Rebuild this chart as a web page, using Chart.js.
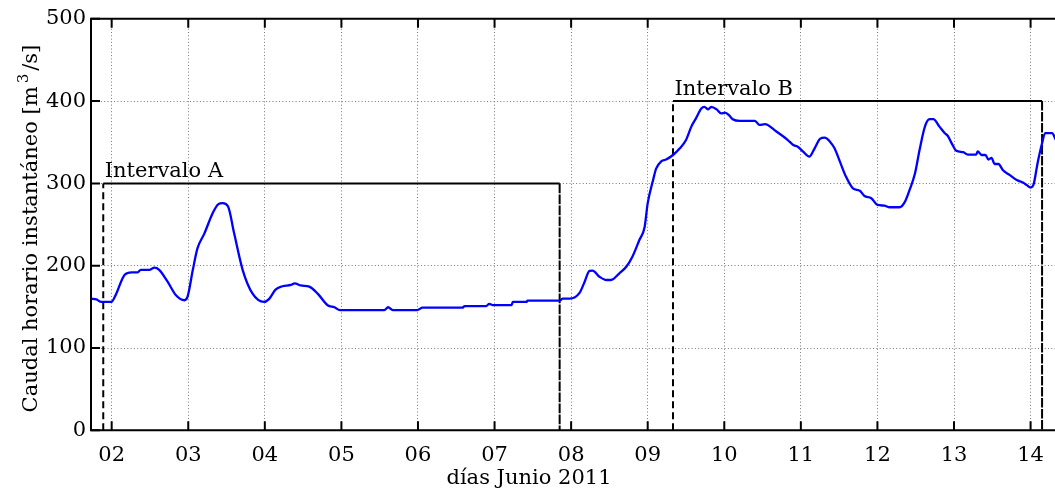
<!DOCTYPE html>
<html>
<head>
<meta charset="utf-8">
<script src="https://cdn.jsdelivr.net/npm/chart.js@4/dist/chart.umd.min.js"></script>
<style>
  html, body { margin: 0; padding: 0; background: #fff; overflow: hidden; }
  #wrap { position: relative; width: 1100px; height: 490px; }
</style>
</head>
<body>
<div id="wrap"><canvas id="c" width="1100" height="490"></canvas></div>
<script>
// Hourly discharge, June 2011 (day of month as fractional days)
const days = [
  1.73, 1.80, 1.864, 1.995, 2.06, 2.12, 2.17, 2.26, 2.34, 2.38, 2.49, 2.56, 2.62, 2.73, 2.84, 2.95, 2.99,
  3.06, 3.12, 3.21, 3.32, 3.39, 3.45, 3.52, 3.60, 3.71, 3.84, 3.99,
  4.06, 4.14, 4.23, 4.34, 4.39, 4.47, 4.58, 4.69, 4.82, 4.91, 4.98,
  5.56, 5.61, 5.67, 5.99, 6.06, 6.58, 6.61, 6.89, 6.93, 6.98, 7.22, 7.24, 7.42, 7.43, 7.85, 7.89, 7.98,
  8.11, 8.17, 8.24, 8.28, 8.37, 8.46, 8.52, 8.63, 8.72, 8.80, 8.89, 8.96,
  9.00, 9.07, 9.11, 9.18, 9.24, 9.33, 9.42, 9.50, 9.57, 9.63, 9.70, 9.74, 9.79, 9.83, 9.90, 9.96,
  10.01, 10.07, 10.11, 10.20, 10.40, 10.46, 10.53, 10.68, 10.83, 10.90, 10.96,
  11.03, 11.11, 11.18, 11.25, 11.31, 11.38, 11.44, 11.51, 11.59, 11.68, 11.77, 11.83, 11.92,
  12.00, 12.09, 12.16, 12.29, 12.36, 12.42, 12.49, 12.55, 12.62, 12.68, 12.73, 12.81, 12.88, 12.92, 12.97,
  13.03, 13.12, 13.18, 13.29, 13.31, 13.36, 13.41, 13.45, 13.49, 13.53, 13.58, 13.64, 13.73, 13.82, 13.90, 13.95,
  14.00, 14.04, 14.09, 14.15, 14.19, 14.28, 14.32, 14.36
];
const caudal = [
  160, 159, 156, 156, 166, 180, 189, 192, 192, 195, 195, 197.6, 195, 180.6, 164, 158, 162,
  195, 221, 239, 264, 274.6, 276, 272, 239, 195, 166, 156,
  160, 171, 175, 176.6, 178.6, 176, 174.5, 166, 152, 149.5, 146,
  146, 149.5, 146, 146, 149, 149, 151, 151, 153.5, 152, 152, 156, 156, 157.5, 157.5, 160, 160,
  167, 179, 193.6, 194, 186.6, 182.6, 182.6, 190.8, 198.8, 211, 231, 247,
  276, 304, 318, 327, 329, 334.5, 342.6, 352.7, 369, 379, 391, 393, 390, 393, 390, 385,
  386, 382, 378, 376, 376, 371, 372, 363, 352.7, 346.7, 344.6,
  338.5, 332.5, 342.6, 354, 355.5, 350.7, 342.6, 326.4, 308, 294, 291, 284.7, 282,
  273.8, 273, 271, 271, 277.8, 292, 312, 340.6, 369, 378, 378, 369, 361, 357.6, 348.7,
  339.7, 338, 335, 335, 339, 334.5, 334.5, 329, 331, 323.6, 323.6, 316, 310, 304, 301, 298,
  295, 299, 324, 348.7, 361, 361, 355, 346
];

// Analysis intervals: name, start day, end day, reference level [m3/s]
const intervalNames = ['Intervalo A', 'Intervalo B'];
const intervalStart = [1.89, 9.33];
const intervalEnd = [7.85, 14.15];
const intervalLevel = [300, 400];

// Axis ticks
const dayTicks = [2, 3, 4, 5, 6, 7, 8, 9, 10, 11, 12, 13, 14];
const flowTicks = [0, 100, 200, 300, 400, 500];

const FONT = 'DejaVu Serif';
const FS = 21;

const seriesData = days.map((d, i) => ({ x: d, y: caudal[i] }));

const intervalSets = intervalNames.map((name, k) => ({
  label: name,
  data: [
    { x: intervalStart[k], y: 0 },
    { x: intervalStart[k], y: intervalLevel[k] },
    { x: intervalEnd[k], y: intervalLevel[k] },
    { x: intervalEnd[k], y: 0 }
  ],
  borderColor: '#000',
  borderWidth: 2,
  pointRadius: 0,
  fill: false,
  tension: 0,
  order: 1,
  segment: {
    borderDash: ctx => (ctx.p0DataIndex === 1 ? [] : [7, 4])
  }
}));

// Box frame with inward ticks, interval captions and axis titles
const decorations = {
  id: 'decorations',
  afterDraw(chart) {
    const { ctx, chartArea: a, scales } = chart;
    const xs = scales.x, ys = scales.y;
    const tl = 9;
    ctx.save();
    ctx.strokeStyle = '#000';
    ctx.lineWidth = 2;
    ctx.beginPath();
    ctx.moveTo(a.left, a.top); ctx.lineTo(a.right, a.top);
    ctx.lineTo(a.right, a.bottom); ctx.lineTo(a.left, a.bottom);
    ctx.closePath();
    ctx.stroke();
    ctx.beginPath();
    dayTicks.forEach(v => {
      const px = xs.getPixelForValue(v);
      ctx.moveTo(px, a.bottom); ctx.lineTo(px, a.bottom - tl);
      ctx.moveTo(px, a.top); ctx.lineTo(px, a.top + tl);
    });
    flowTicks.forEach(v => {
      const py = ys.getPixelForValue(v);
      ctx.moveTo(a.left, py); ctx.lineTo(a.left + tl, py);
      ctx.moveTo(a.right, py); ctx.lineTo(a.right - tl, py);
    });
    ctx.stroke();

    // interval captions
    ctx.fillStyle = '#000';
    ctx.font = FS + 'px "' + FONT + '"';
    ctx.textAlign = 'left';
    ctx.textBaseline = 'alphabetic';
    intervalNames.forEach((name, k) => {
      ctx.fillText(name, xs.getPixelForValue(intervalStart[k]) + 1.5, ys.getPixelForValue(intervalLevel[k]) - 6);
    });

    // x title
    ctx.textAlign = 'center';
    ctx.fillText('días Junio 2011', 529, 484);

    // y title with superscript
    const p1 = 'Caudal horario instantáneo [m';
    const sup = '3';
    const p2 = '/s]';
    const supFont = Math.round(FS * 0.72) + 'px "' + FONT + '"';
    const mainFont = FS + 'px "' + FONT + '"';
    ctx.font = mainFont;
    const w1 = ctx.measureText(p1).width;
    const w3 = ctx.measureText(p2).width;
    ctx.font = supFont;
    const w2 = ctx.measureText(sup).width;
    const gap = 3;
    const total = w1 + gap + w2 + gap + w3;
    ctx.translate(37, (a.top + a.bottom) / 2 + 4);
    ctx.rotate(-Math.PI / 2);
    ctx.textAlign = 'left';
    let x0 = -total / 2;
    ctx.font = mainFont;
    ctx.fillText(p1, x0, 0);
    x0 += w1 + gap;
    ctx.font = supFont;
    ctx.fillText(sup, x0, -9);
    x0 += w2 + gap;
    ctx.font = mainFont;
    ctx.fillText(p2, x0, 0);
    ctx.restore();
  }
};

new Chart(document.getElementById('c'), {
  type: 'line',
  data: {
    datasets: [
      {
        label: 'Caudal',
        data: seriesData,
        borderColor: '#0000ff',
        borderWidth: 2.3,
        pointRadius: 0,
        fill: false,
        cubicInterpolationMode: 'monotone',
        order: 0
      },
      ...intervalSets
    ]
  },
  options: {
    responsive: false,
    animation: false,
    layout: { padding: { top: 18.8, right: 25, left: 0, bottom: 0 } },
    plugins: { legend: { display: false }, tooltip: { enabled: false } },
    scales: {
      x: {
        type: 'linear',
        min: 1.73,
        max: 14.58,
        afterBuildTicks: s => { s.ticks = dayTicks.map(v => ({ value: v })); },
        afterFit: s => { s.height = 490 - 430.3; },
        ticks: {
          autoSkip: false,
          maxRotation: 0,
          padding: 13,
          color: '#000',
          font: { family: FONT, size: FS },
          callback: v => String(v).padStart(2, '0')
        },
        grid: { color: '#777', lineWidth: 1, drawTicks: false },
        border: { display: false, dash: [1, 2.3] }
      },
      y: {
        min: 0,
        max: 500,
        afterBuildTicks: s => { s.ticks = flowTicks.map(v => ({ value: v })); },
        afterFit: s => { s.width = 91; },
        ticks: {
          padding: 5,
          color: '#000',
          font: { family: FONT, size: FS }
        },
        grid: { color: '#777', lineWidth: 1, drawTicks: false },
        border: { display: false, dash: [1, 2.3] }
      }
    }
  },
  plugins: [decorations]
});
</script>
</body>
</html>
